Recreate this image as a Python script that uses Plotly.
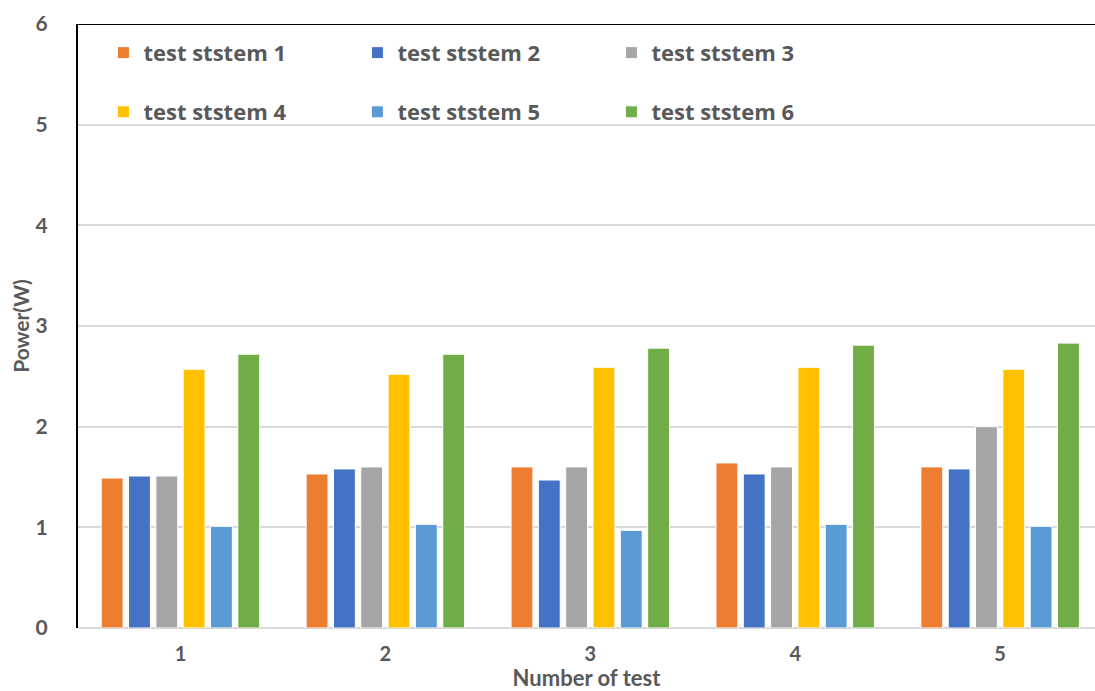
import plotly.graph_objects as go

tests = [1, 2, 3, 4, 5]
tick_labels = ["1", "2", "3", "4", "5"]
series_names = ["test ststem 1", "test ststem 2", "test ststem 3",
                "test ststem 4", "test ststem 5", "test ststem 6"]
system1 = [1.49, 1.53, 1.60, 1.64, 1.60]
system2 = [1.51, 1.58, 1.47, 1.53, 1.58]
system3 = [1.51, 1.60, 1.60, 1.60, 2.00]
system4 = [2.57, 2.52, 2.59, 2.59, 2.57]
system5 = [1.01, 1.03, 0.97, 1.03, 1.01]
system6 = [2.72, 2.72, 2.78, 2.81, 2.83]
y_ticks = [0, 1, 2, 3, 4, 5, 6]

colors = ["#ED7D31", "#4472C4", "#A5A5A5", "#FFC000", "#5B9BD5", "#70AD47"]
all_series = [system1, system2, system3, system4, system5, system6]

fig = go.Figure()
for i, (name, vals) in enumerate(zip(series_names, all_series)):
    fig.add_trace(go.Bar(
        x=tests, y=vals, name=name,
        marker=dict(color=colors[i], line=dict(color="white", width=1)),
        legend="legend" if i < 3 else "legend2",
    ))

text_color = "#595959"
legend_font = dict(family="Open Sans", size=22, color=text_color, weight="bold")

fig.update_layout(
    width=1095, height=691,
    margin=dict(l=78, r=0, t=24, b=63),
    plot_bgcolor="white", paper_bgcolor="white",
    barmode="group", bargap=0.2, bargroupgap=0.2,
    font=dict(family="Lato", color=text_color),
    legend=dict(orientation="h", x=0.025, y=0.987, xanchor="left", yanchor="top",
                entrywidth=209, entrywidthmode="pixels", font=legend_font,
                bgcolor="rgba(0,0,0,0)", itemwidth=30),
    legend2=dict(orientation="h", x=0.025, y=0.889, xanchor="left", yanchor="top",
                 entrywidth=209, entrywidthmode="pixels", font=legend_font,
                 bgcolor="rgba(0,0,0,0)", itemwidth=30),
    xaxis=dict(
        range=[0.5, 5.463], tickvals=tests, ticktext=tick_labels,
        showgrid=False, showline=False, zeroline=False, ticks="",
        ticklabelstandoff=12, automargin=False,
        tickfont=dict(family="Lato", size=20, color=text_color, weight="bold"),
        title=dict(text="Number of test", standoff=4,
                   font=dict(family="Lato", size=22, color=text_color, weight="bold")),
    ),
    yaxis=dict(
        range=[0, 6], tickvals=y_ticks,
        showgrid=True, gridcolor="#D9D9D9", gridwidth=1.5,
        showline=True, linecolor="black", linewidth=2,
        zeroline=True, zerolinecolor="#D9D9D9", zerolinewidth=1.5,
        ticks="", ticklabelstandoff=24, automargin=False,
        tickfont=dict(family="Lato", size=21, color=text_color, weight="bold"),
        title=dict(text="Power(W)", standoff=0,
                   font=dict(family="Lato", size=21, color=text_color, weight="bold")),
    ),
    shapes=[dict(type="line", xref="paper", yref="y", x0=0, x1=1, y0=6, y1=6,
                 line=dict(color="black", width=2))],
)

fig.write_html("out.html")
